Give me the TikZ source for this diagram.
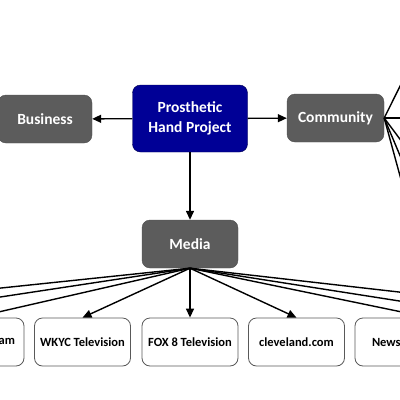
\documentclass[tikz,border=0pt]{standalone}
\usepackage{fontspec}
\setmainfont{Carlito}
\usepackage{xcolor}
\usetikzlibrary{arrows.meta, positioning}
\definecolor{projblue}{RGB}{0,0,150}
\definecolor{hubgray}{RGB}{92,92,92}

\begin{document}
\begin{tikzpicture}[x=1pt, y=-1pt,
    hub/.style={rounded corners=8pt, fill=hubgray, draw=hubgray!85!black, text=white,
        font=\fontsize{15.5}{20}\selectfont\bfseries, minimum width=96pt, minimum height=48pt, align=center},
    outlet/.style={rounded corners=8pt, draw=black!65, fill=white, line width=0.8pt,
        font=\fontsize{12.5}{14}\selectfont\bfseries, minimum width=96pt, minimum height=48pt},
    link/.style={line width=1.4pt, -{Triangle[length=9pt, width=8pt]}}]
    \useasboundingbox (0,0) rectangle (400,400);
    \clip (0,0) rectangle (400,400);

    % Project and hubs
    \node[hub, fill=projblue, draw=projblue!55!black, minimum width=115pt, minimum height=67pt]
        (proj) at (190,118.5) {Prosthetic\\Hand Project};
    \node[hub, minimum width=94pt] (business) at (45,119) {Business};
    \node[hub, minimum width=97pt] (community) at (335.5,118) {Community};
    \node[hub] (media) at (190,244) {Media};

    \draw[link] (proj) -- (business);
    \draw[link] (proj) -- (community);
    \draw[link] (proj) -- (media);

    % Media outlets
    \node[outlet, minimum width=100pt, text width=82pt, align=right] (social) at (-26,342) {Instagram};
    \foreach \x/\name/\txt in {82.5/wkyc/WKYC Television, 190/fox/FOX 8 Television, 296.5/cle/cleveland.com} {
        \node[outlet] (\name) at (\x,342) {\txt};
    }
    \node[outlet, minimum width=148pt, text width=114pt, align=left] (news) at (429,342) {News-Herald};

    % outlets beyond the frame
    \coordinate (far1) at (-285,318);
    \coordinate (far2) at (-138,318);
    \coordinate (far3) at (508,318);
    \coordinate (far4) at (627,318);
    \foreach \t in {far1, far2, far3, far4} {
        \draw[link] (media.south) -- (\t);
    }
    \foreach \t in {social, wkyc, fox, cle, news} {
        \draw[link] (media.south) -- (\t.north);
    }

    % Community branches
    \coordinate (cb1) at (420,46);
    \coordinate (cb2) at (420,118);
    \coordinate (cb3) at (420,166);
    \coordinate (cb4) at (420,203);
    \coordinate (cb5) at (420,249);
    \foreach \t in {cb1, cb2, cb3, cb4, cb5} {
        \draw[link] (community.east) -- (\t);
    }
\end{tikzpicture}
\end{document}
